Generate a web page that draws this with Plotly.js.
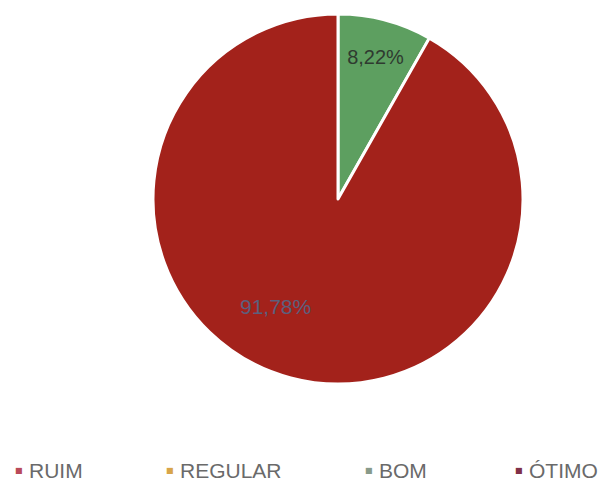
<!DOCTYPE html>
<html>
<head>
<meta charset="utf-8">
<script src="https://cdn.plot.ly/plotly-3.0.1.min.js"></script>
<style>html,body{margin:0;padding:0;background:#fff;}#chart{width:603px;height:483px;}</style>
</head>
<body>
<div id="chart"></div>
<script>
const categories = ["RUIM", "REGULAR", "BOM", "ÓTIMO"];
const values = [0, 0, 8.22, 91.78];
const sliceLabels = ["", "", "8,22%", "91,78%"];
const sliceColors = ["#b94a5a", "#d8a54a", "#5d9f60", "#a3221b"];
const legendColors = ["#b94a5a", "#d8a54a", "#889a8a", "#803048"];
const labelFontColors = ["#333", "#333", "#2f3a30", "#5b5f7d"];

const W = 603, H = 483;
const legendTextX = [27, 178, 377, 527];

// the large slice label sits lower-left in the reference; place it as an annotation
const insideText = sliceLabels.map((t, i) => i === 3 ? "" : t);

const trace = {
  type: "pie",
  labels: categories,
  values: values,
  text: insideText,
  textinfo: "text",
  textposition: "inside",
  insidetextorientation: "horizontal",
  insidetextfont: {family: "Arial, Liberation Sans, sans-serif", size: 20, color: labelFontColors},
  sort: false,
  direction: "clockwise",
  rotation: 0,
  marker: {colors: sliceColors, line: {color: "#ffffff", width: 3}},
  domain: {x: [153/W, 523/W], y: [(H-384)/H, (H-14)/H]},
  hoverinfo: "label+percent"
};

const annotations = [{
  xref: "paper", yref: "paper",
  x: 275/W, y: (H-306)/H,
  xanchor: "center", yanchor: "middle",
  text: sliceLabels[3], showarrow: false,
  font: {family: "Arial, Liberation Sans, sans-serif", size: 21, color: labelFontColors[3]}
}];
categories.forEach((c, i) => {
  annotations.push({
    xref: "paper", yref: "paper",
    x: (legendTextX[i]-2)/W, y: (H-470)/H,
    xanchor: "right", yanchor: "middle",
    text: "■", showarrow: false,
    font: {family: "DejaVu Sans, sans-serif", size: 8, color: legendColors[i]}
  });
  annotations.push({
    xref: "paper", yref: "paper",
    x: legendTextX[i]/W, y: (H-470)/H,
    xanchor: "left", yanchor: "middle",
    text: c, showarrow: false,
    font: {family: "Arial, Liberation Sans, sans-serif", size: 21, color: "#6a6a6a"}
  });
});

const layout = {
  width: W, height: H,
  margin: {l: 0, r: 0, t: 0, b: 0, pad: 0},
  paper_bgcolor: "#ffffff",
  showlegend: false,
  annotations: annotations
};

Plotly.newPlot("chart", [trace], layout, {displayModeBar: false, staticPlot: true});
</script>
</body>
</html>
